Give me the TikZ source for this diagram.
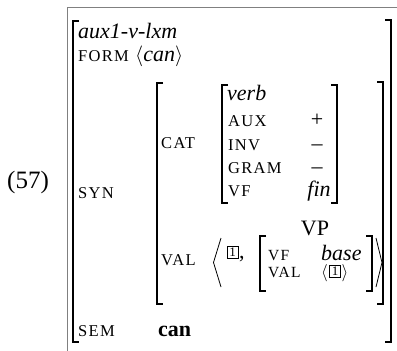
\documentclass[tikz,border=0pt]{standalone}
\usepackage{fontspec}
\setmainfont{Liberation Serif}
\newfontfamily\featfont[LetterSpace=8]{Liberation Serif}
\begin{document}
\begin{tikzpicture}[x=1pt,y=-1pt,
  main/.style={font=\fontsize{22}{25}\selectfont, inner sep=0pt, anchor=base west},
  feat/.style={font=\featfont\fontsize{16.5}{18}\selectfont, inner sep=0pt, anchor=base west},
  brk/.style={line width=1.3pt},
  ang/.style={line width=0.8pt},
  tag/.style={draw, line width=0.7pt, minimum width=11pt, minimum height=12pt, inner sep=0pt, font=\fontsize{13}{14}\selectfont},
  boxline/.style={draw=black!50, line width=1.6pt}]
\useasboundingbox (0,0) rectangle (397,351);
% frame (top and left rules)
\coordinate (ftl) at (67.5,7.5);
\coordinate (ftr) at (397,7.5);
\coordinate (fbl) at (67.5,351);
\draw[boxline] (ftr) -- (ftl) -- (fbl);
% example number
\node[main, font=\fontsize{25}{28}\selectfont] (num) at (7,188) {(57)};
% outer brackets
\draw[brk] (79,21) -- (73,21) -- (73,342) -- (79,342);
\draw[brk] (385,20) -- (391,20) -- (391,342) -- (385,342);
\node[main] (type) at (78,38) {\itshape aux1-v-lxm};
\node[feat] (form) at (78,61) {FORM};
\node[main] (formv) at (135,61) {$\langle$\textit{can}$\rangle$};
\node[feat] (syn) at (78,198) {SYN};
\node[feat] (sem) at (78,336) {SEM};
\node[main] (semv) at (158,336) {\bfseries can};
% SYN brackets
\draw[brk] (163,83) -- (157,83) -- (157,304) -- (163,304);
\draw[brk] (377,82) -- (383,82) -- (383,304) -- (377,304);
\node[feat] (cat) at (161,148) {CAT};
% CAT brackets
\draw[brk] (228,85) -- (222,85) -- (222,203) -- (228,203);
\draw[brk] (331,85) -- (337,85) -- (337,203) -- (331,203);
\node[main] (verb) at (227,100) {\itshape verb};
\node[feat] (aux) at (228,126) {AUX};
\node[feat] (inv) at (228,150) {INV};
\node[feat] (gram) at (228,173) {GRAM};
\node[feat] (vf) at (228,196) {VF};
\node[main, anchor=base] (auxv) at (317,126) {+};
\node[main, anchor=base] (invv) at (317,150) {\textendash};
\node[main, anchor=base] (gramv) at (317,173) {\textendash};
\node[main, anchor=base] (vfv) at (319,196) {\itshape fin};
% VAL
\node[feat] (val) at (161,265) {VAL};
\draw[ang] (221,238) -- (213.5,262.5) -- (221,287);
\draw[ang] (376,238) -- (382,262.5) -- (376,287);
\node[tag] (t1) at (232.5,252) {1};
\node[main] (comma) at (239,258) {,};
\node[main, anchor=base] (vp) at (315,235) {VP};
\draw[brk] (266,236) -- (260,236) -- (260,291) -- (266,291);
\draw[brk] (366,236) -- (372,236) -- (372,291) -- (366,291);
\node[feat, font=\featfont\fontsize{15.5}{17}\selectfont] (vf2) at (268,260) {VF};
\node[main] (base) at (321,260) {\itshape base};
\node[feat, font=\featfont\fontsize{15.5}{17}\selectfont] (val2) at (268,277) {VAL};
\node[main, font=\fontsize{19}{21}\selectfont] (la) at (321,277) {$\langle$};
\node[tag] (t2) at (335,271) {1};
\node[main, font=\fontsize{19}{21}\selectfont] (ra) at (341.5,277) {$\rangle$};
\end{tikzpicture}
\end{document}
